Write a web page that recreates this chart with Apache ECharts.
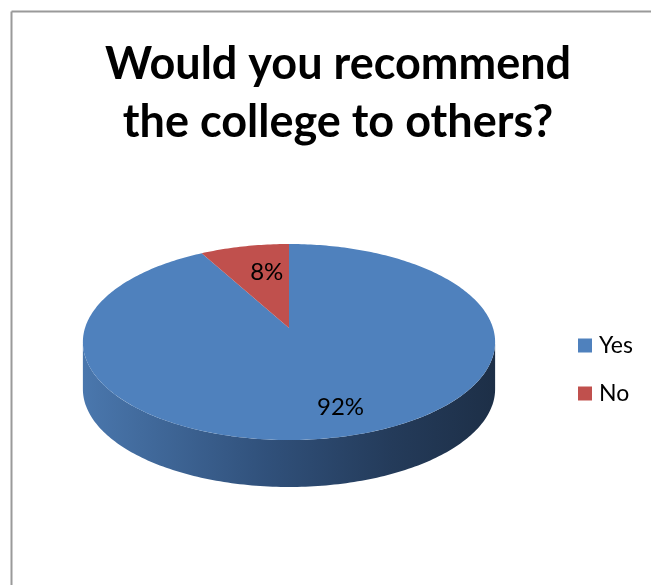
<!DOCTYPE html>
<html>
<head>
<meta charset="utf-8">
<script src="https://cdn.jsdelivr.net/npm/echarts@6/dist/echarts.min.js"></script>
<style>
  html, body { margin: 0; padding: 0; background: #fff; }
  #main { width: 651px; height: 585px; }
</style>
</head>
<body>
<div id="main"></div>
<script>
// ---- data ----
const categories = ['Yes', 'No'];
const values = [92, 8];
const colors = ['#4F81BD', '#C0504D'];
const titleLines = ['Would you recommend', 'the college to others?'];

// ---- geometry / style (not data) ----
const FONT = 'Lato, "Open Sans", sans-serif';
// simple perspective projection of a tilted disc
const CX = 289, CY0 = 328, A = 204, B = 96, P = 0.1429, DEPTH = 47;
const LABEL_R = 0.72, LABEL_DX = 11, LABEL_DY = 5;

const total = values.reduce((a, b) => a + b, 0);
const cum = [];
values.reduce((acc, v, i) => { cum[i] = acc; return acc + v; }, 0);

function proj(X, Z, dy) {
  const d = 1 + P * Z;
  return [CX + A * X / d, CY0 - B * Z / d + (dy || 0)];
}
function pt(deg, dy, f) {
  const r = deg * Math.PI / 180;
  const k = f == null ? 1 : f;
  return proj(k * Math.sin(r), k * Math.cos(r), dy);
}
function arc(a0, a1, dy) {
  const pts = [];
  const n = Math.max(2, Math.ceil(a1 - a0));
  for (let k = 0; k <= n; k++) pts.push(pt(a0 + (a1 - a0) * k / n, dy));
  return pts;
}
// silhouette angles (extreme left / right of the rim)
const SIL = Math.acos(-P) * 180 / Math.PI;

const sideGradient = {
  type: 'linear', global: true,
  x: CX - 206, y: 0, x2: CX + 206, y2: 0,
  colorStops: [
    { offset: 0, color: '#4a77ad' },
    { offset: 0.45, color: '#30507a' },
    { offset: 0.75, color: '#243b5a' },
    { offset: 1, color: '#1d2f47' }
  ]
};

function makeRender(i) {
  return function (params, api) {
    const v = api.value(0);
    const start = cum[i] / total * 360;
    const end = (cum[i] + v) / total * 360;
    const children = [];
    const s = Math.max(start, SIL), e = Math.min(end, 360 - SIL);
    if (e > s) {
      const top = arc(s, e, 0);
      const bottom = arc(s, e, DEPTH).reverse();
      children.push({
        type: 'polygon', z2: 0,
        shape: { points: top.concat(bottom) },
        style: { fill: sideGradient, stroke: null }
      });
    }
    children.push({
      type: 'polygon', z2: 5,
      shape: { points: [proj(0, 0)].concat(arc(start, end, 0)) },
      style: { fill: colors[i], stroke: null }
    });
    const lp = pt((start + end) / 2, 0, LABEL_R);
    children.push({
      type: 'text', z2: 10, x: lp[0] + LABEL_DX, y: lp[1] + LABEL_DY,
      style: {
        text: Math.round(v / total * 100) + '%',
        fill: '#000', font: '24px ' + FONT,
        align: 'center', verticalAlign: 'middle'
      }
    });
    return { type: 'group', children: children };
  };
}

const series = categories.map((name, i) => ({
  type: 'custom',
  name: name,
  coordinateSystem: 'none',
  itemStyle: { color: colors[i] },
  data: [[values[i]]],
  renderItem: makeRender(i),
  silent: true,
  animation: false
}));

const chart = echarts.init(document.getElementById('main'), null, { renderer: 'canvas' });
chart.setOption({
  backgroundColor: '#fff',
  animation: false,
  legend: {
    orient: 'vertical',
    left: 578, top: 334,
    padding: 0,
    icon: 'rect',
    itemWidth: 14, itemHeight: 14,
    itemGap: 25,
    selectedMode: false,
    data: categories,
    textStyle: { fontFamily: FONT, fontSize: 23, color: '#000', padding: [0, 0, 0, 2] }
  },
  graphic: [
    { type: 'line', shape: { x1: 11.5, y1: 11.5, x2: 651, y2: 11.5 }, style: { stroke: '#9a9a9a', lineWidth: 2 } },
    { type: 'line', shape: { x1: 11.5, y1: 11.5, x2: 11.5, y2: 585 }, style: { stroke: '#9a9a9a', lineWidth: 2 } },
    { type: 'text', x: 338, y: 64, style: { text: titleLines[0], font: 'bold 45px ' + FONT, fill: '#000', align: 'center', verticalAlign: 'middle' } },
    { type: 'text', x: 338, y: 122, style: { text: titleLines[1], font: 'bold 45px ' + FONT, fill: '#000', align: 'center', verticalAlign: 'middle' } }
  ],
  series: series
});
</script>
</body>
</html>
